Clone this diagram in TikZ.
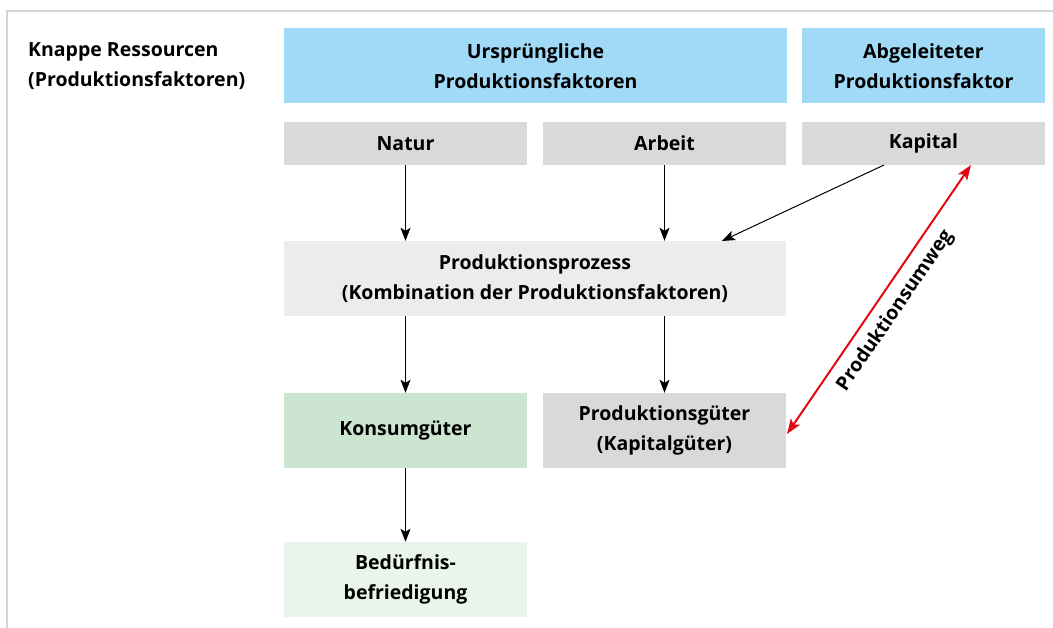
\documentclass[tikz,border=0pt]{standalone}
\usepackage{fontspec}
\setmainfont{Open Sans}
\usetikzlibrary{arrows.meta}
\definecolor{hblue}{HTML}{A1DAF6}
\definecolor{boxgray}{HTML}{D9D9D9}
\definecolor{procgray}{HTML}{ECECEC}
\definecolor{kgreen}{HTML}{CCE5D0}
\definecolor{bgreen}{HTML}{E9F4EA}
\definecolor{umred}{HTML}{E30613}
\definecolor{framegray}{HTML}{D4D4D4}
\begin{document}
\begin{tikzpicture}[x=1pt,y=-1pt,
  every node/.style={font=\fontsize{19.5}{30}\selectfont\bfseries},
  cbox/.style={inner sep=0pt, align=center},
  arr/.style={-{Stealth[length=13pt,width=10pt,inset=3pt]}, line width=1pt},
  redarr/.style={{Stealth[length=15pt,width=11pt,inset=3.5pt]}-{Stealth[length=15pt,width=11pt,inset=3.5pt]}, line width=2pt, draw=umred}]
\useasboundingbox (0,0) rectangle (1053,628);
\draw[framegray, line width=1.2pt] (7,628) -- (7,11) -- (1053,11);
% boxes
\fill[hblue] (284,28) rectangle (787,103);
\node[cbox] (urs) at (535.5,66) {Ursprüngliche\\Produktionsfaktoren};
\fill[hblue] (802,28) rectangle (1045,103);
\node[cbox] (abg) at (923.5,66) {Abgeleiteter\\Produktionsfaktor};
\node[anchor=north west, align=left, inner sep=0pt] (knapp) at (28,42) {Knappe Ressourcen\\(Produktionsfaktoren)};

\node[cbox, fill=boxgray, minimum width=243pt, minimum height=43pt] (natur) at (405.5,143.5) {Natur};
\node[cbox, fill=boxgray, minimum width=243pt, minimum height=43pt] (arbeit) at (664.5,143.5) {Arbeit};
\node[cbox, fill=boxgray, minimum width=243pt, minimum height=43pt] (kapital) at (923.5,143.5) {Kapital};

\node[cbox, fill=procgray, minimum width=502pt, minimum height=75pt] (proz) at (535,278.5) {Produktionsprozess\\(Kombination der Produktionsfaktoren)};

\node[cbox, fill=kgreen, minimum width=243pt, minimum height=75pt] (konsum) at (405.5,430.5) {Konsumgüter};
\node[cbox, fill=boxgray, minimum width=243pt, minimum height=75pt] (prodg) at (664.5,430.5) {Produktionsgüter\\(Kapitalgüter)};
\node[cbox, fill=bgreen, minimum width=243pt, minimum height=75pt] (bed) at (405.5,579.5) {Bedürfnis-\\befriedigung};

% arrows
\draw[arr] (natur.south) -- (natur.south |- proz.north);
\draw[arr] (arbeit.south) -- (arbeit.south |- proz.north);
\coordinate (kapstart) at (884,165);
\coordinate (prozend) at (722,241);
\draw[arr] (kapstart) -- (prozend);
\draw[arr] (proz.south -| konsum.north) -- (konsum.north);
\draw[arr] (proz.south -| prodg.north) -- (prodg.north);
\draw[arr] (konsum.south) -- (bed.north);

\coordinate (rtop) at (971,165);
\coordinate (rbot) at (787,434);
\draw[redarr] (rbot) -- (rtop) node[midway, sloped, below=9pt, inner sep=0pt] (umweg) {Produktionsumweg};
\end{tikzpicture}
\end{document}
